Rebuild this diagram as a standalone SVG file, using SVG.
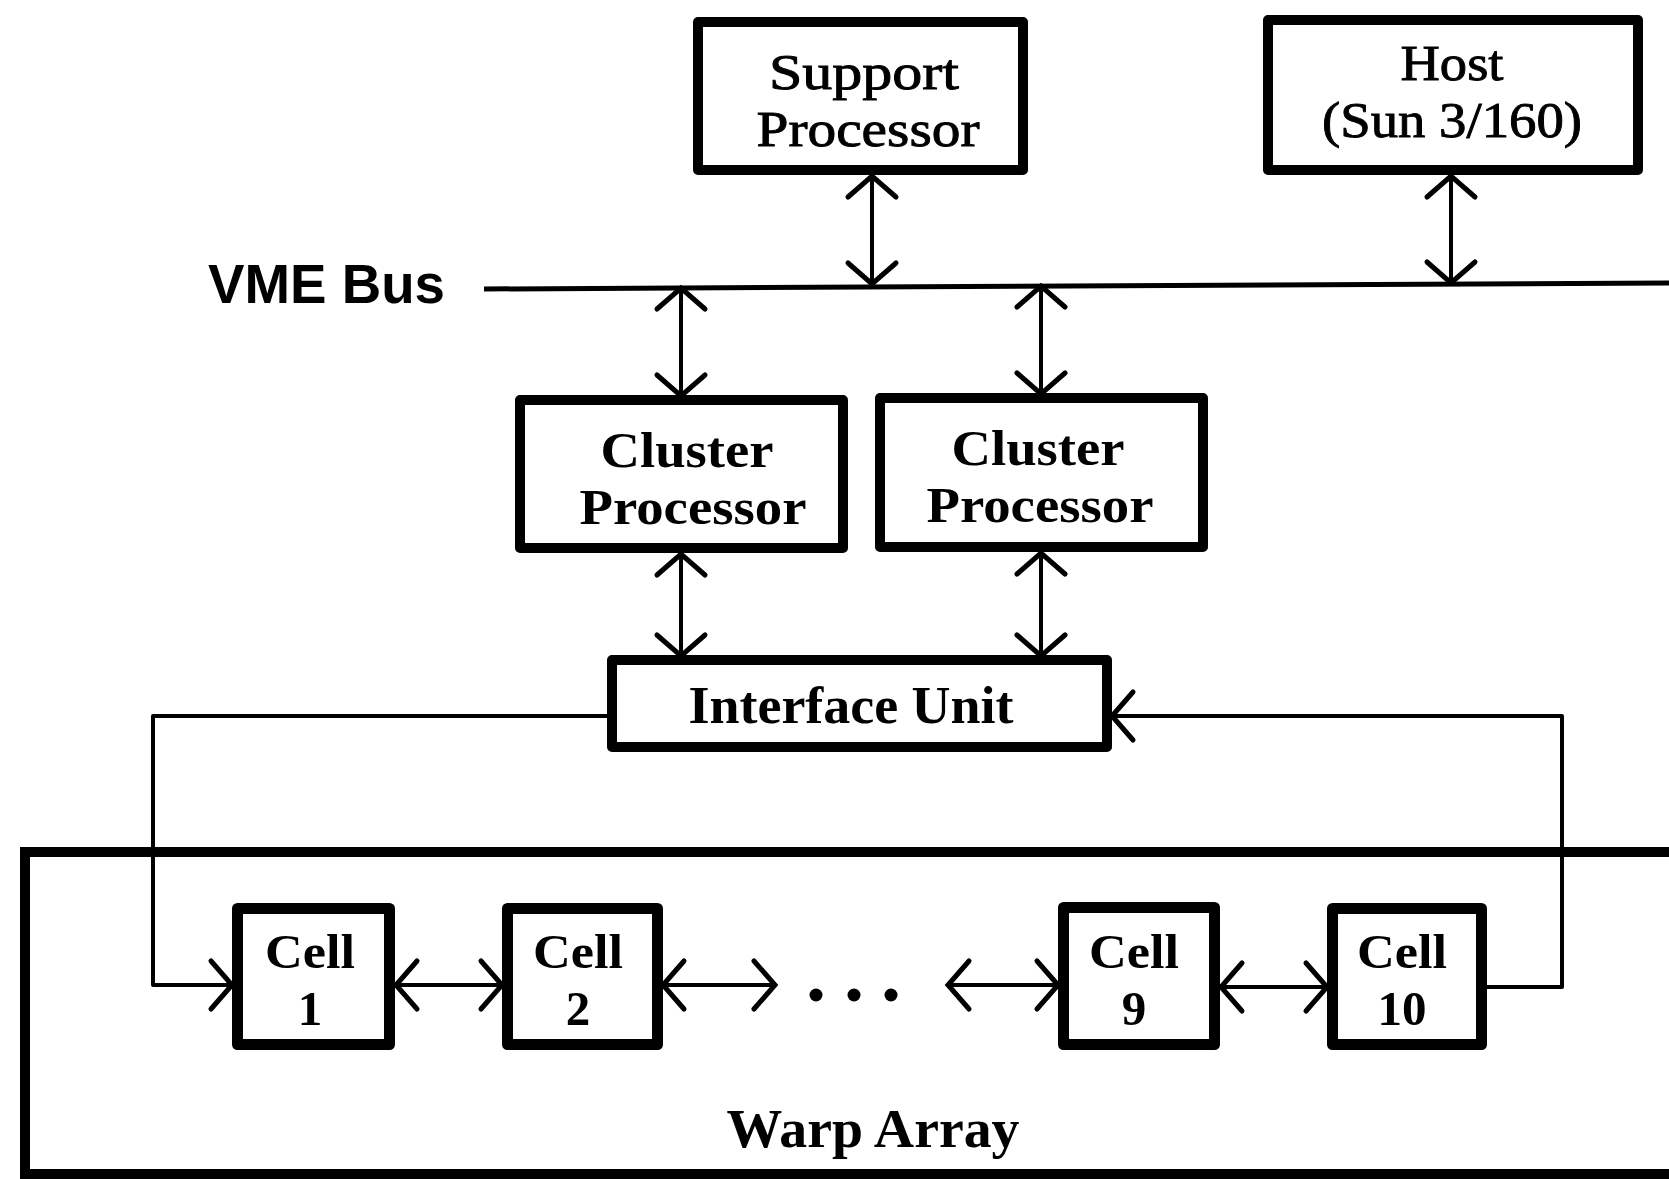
<svg xmlns="http://www.w3.org/2000/svg" width="1669" height="1179" viewBox="0 0 1669 1179">
<style>
.box{fill:#fff;stroke:#000;stroke-width:10;stroke-linejoin:round}
.cell{fill:#fff;stroke:#000;stroke-width:11;stroke-linejoin:round}
.wire{fill:none;stroke:#000;stroke-width:4;stroke-linejoin:round}
.t{font-family:"Liberation Serif","Times New Roman",serif;fill:#000;text-anchor:middle}
.m{stroke:#000;stroke-width:0.9}
.b{font-weight:bold}
</style>
<defs>
<marker id="ah" markerUnits="userSpaceOnUse" viewBox="-26 -28 30 56" refX="0" refY="0" markerWidth="30" markerHeight="56" orient="auto-start-reverse" overflow="visible">
<path d="M-21,-24 L0,0 L-21,24" fill="none" stroke="#000" stroke-width="5" stroke-linecap="round" stroke-linejoin="miter"/>
</marker>
</defs>
<rect width="1669" height="1179" fill="#fff"/>

<g id="warp-array">
<rect x="25" y="852" width="1700" height="322" fill="none" stroke="#000" stroke-width="10"/>
<text class="t b" x="873" y="1147" font-size="54" textLength="293" lengthAdjust="spacingAndGlyphs">Warp Array</text>
</g>

<g id="vme-bus">
<line x1="484" y1="289" x2="1669" y2="283" stroke="#000" stroke-width="5"/>
<text x="208" y="303" font-family="'Liberation Sans',Arial,sans-serif" font-weight="bold" font-size="55" textLength="237" lengthAdjust="spacingAndGlyphs">VME Bus</text>
</g>

<g id="connectors">
<line class="wire" x1="872" y1="176" x2="872" y2="284" marker-start="url(#ah)" marker-end="url(#ah)"/>
<line class="wire" x1="1451" y1="176" x2="1451" y2="283" marker-start="url(#ah)" marker-end="url(#ah)"/>
<line class="wire" x1="681" y1="288" x2="681" y2="396" marker-start="url(#ah)" marker-end="url(#ah)"/>
<line class="wire" x1="1041" y1="286" x2="1041" y2="394" marker-start="url(#ah)" marker-end="url(#ah)"/>
<line class="wire" x1="681" y1="554" x2="681" y2="656" marker-start="url(#ah)" marker-end="url(#ah)"/>
<line class="wire" x1="1041" y1="553" x2="1041" y2="656" marker-start="url(#ah)" marker-end="url(#ah)"/>
<polyline class="wire" points="607,716 153,716 153,985 232,985" marker-end="url(#ah)"/>
<polyline class="wire" points="1487,987 1562,987 1562,716 1112,716" marker-end="url(#ah)"/>
<line class="wire" x1="396" y1="985" x2="502" y2="985" marker-start="url(#ah)" marker-end="url(#ah)"/>
<line class="wire" x1="663" y1="985" x2="775" y2="985" marker-start="url(#ah)" marker-end="url(#ah)"/>
<line class="wire" x1="948" y1="985" x2="1058" y2="985" marker-start="url(#ah)" marker-end="url(#ah)"/>
<line class="wire" x1="1221" y1="987" x2="1327" y2="987" marker-start="url(#ah)" marker-end="url(#ah)"/>
<circle cx="816" cy="995" r="6.5"/>
<circle cx="854" cy="995" r="6.5"/>
<circle cx="891" cy="995" r="6.5"/>
</g>

<g id="support-processor">
<rect class="box" x="698" y="22" width="325" height="148"/>
<text class="t m" x="864" y="89" font-size="50" textLength="190" lengthAdjust="spacingAndGlyphs">Support</text>
<text class="t m" x="868" y="146" font-size="50" textLength="223" lengthAdjust="spacingAndGlyphs">Processor</text>
</g>

<g id="host">
<rect class="box" x="1268" y="20" width="370" height="150"/>
<text class="t m" x="1452" y="80" font-size="50" textLength="103" lengthAdjust="spacingAndGlyphs">Host</text>
<text class="t m" x="1452" y="137" font-size="50" textLength="260" lengthAdjust="spacingAndGlyphs">(Sun 3/160)</text>
</g>

<g id="cluster-processor-1">
<rect class="box" x="520" y="400" width="323" height="148"/>
<text class="t b" x="687" y="467" font-size="50" textLength="173" lengthAdjust="spacingAndGlyphs">Cluster</text>
<text class="t b" x="693" y="524" font-size="50" textLength="227" lengthAdjust="spacingAndGlyphs">Processor</text>
</g>

<g id="cluster-processor-2">
<rect class="box" x="880" y="398" width="323" height="149"/>
<text class="t b" x="1038" y="465" font-size="50" textLength="173" lengthAdjust="spacingAndGlyphs">Cluster</text>
<text class="t b" x="1040" y="522" font-size="50" textLength="227" lengthAdjust="spacingAndGlyphs">Processor</text>
</g>

<g id="interface-unit">
<rect class="box" x="612" y="660" width="495" height="87"/>
<text class="t b" x="851" y="723" font-size="52" textLength="325" lengthAdjust="spacingAndGlyphs">Interface Unit</text>
</g>

<g id="cell-1">
<rect class="cell" x="237.5" y="908.5" width="152" height="136"/>
<text class="t b" x="310" y="968" font-size="49" textLength="90" lengthAdjust="spacingAndGlyphs">Cell</text>
<text class="t b" x="310" y="1025" font-size="49">1</text>
</g>

<g id="cell-2">
<rect class="cell" x="507.5" y="908.5" width="150" height="136"/>
<text class="t b" x="578" y="968" font-size="49" textLength="90" lengthAdjust="spacingAndGlyphs">Cell</text>
<text class="t b" x="578" y="1025" font-size="49">2</text>
</g>

<g id="cell-9">
<rect class="cell" x="1063.5" y="907.5" width="151" height="137"/>
<text class="t b" x="1134" y="968" font-size="49" textLength="90" lengthAdjust="spacingAndGlyphs">Cell</text>
<text class="t b" x="1134" y="1025" font-size="49">9</text>
</g>

<g id="cell-10">
<rect class="cell" x="1332.5" y="908.5" width="149" height="136"/>
<text class="t b" x="1402" y="968" font-size="49" textLength="90" lengthAdjust="spacingAndGlyphs">Cell</text>
<text class="t b" x="1402" y="1025" font-size="49">10</text>
</g>
</svg>
